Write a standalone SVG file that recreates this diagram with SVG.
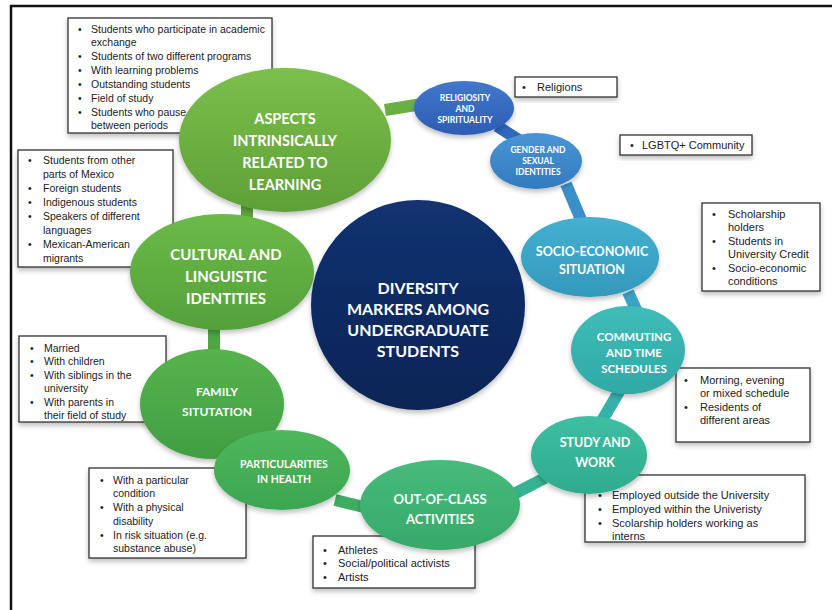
<svg xmlns="http://www.w3.org/2000/svg" width="832" height="610" viewBox="0 0 832 610">
<defs>
<style>
.frame{stroke:#111;stroke-width:2.5;fill:none}
.box{fill:#fff;stroke:#333;stroke-width:1.3}
.bt{font-family:"Liberation Sans",Arial,sans-serif;font-size:10.5px;fill:#222}
.bt11{font-size:11px}
.nt{font-family:Lato,"Liberation Sans",sans-serif;font-weight:bold;fill:#fff;text-anchor:middle}
.bar{stroke-linecap:butt;fill:none}
.sh{filter:url(#shadow)}
</style>
<filter id="shadow" x="-20%" y="-20%" width="140%" height="150%">
<feDropShadow dx="0" dy="3" stdDeviation="2.5" flood-color="#000" flood-opacity="0.25"/>
</filter>
<linearGradient id="gAsp" x1="0" y1="0" x2="0" y2="1"><stop offset="0" stop-color="#7dbf4c"/><stop offset="1" stop-color="#5f9f38"/></linearGradient>
<linearGradient id="gCul" x1="0" y1="0" x2="0" y2="1"><stop offset="0" stop-color="#6cba48"/><stop offset="1" stop-color="#54a13a"/></linearGradient>
<linearGradient id="gFam" x1="0" y1="0" x2="0" y2="1"><stop offset="0" stop-color="#57b34d"/><stop offset="1" stop-color="#3f9f42"/></linearGradient>
<linearGradient id="gPar" x1="0" y1="0" x2="0" y2="1"><stop offset="0" stop-color="#4fb75c"/><stop offset="1" stop-color="#3ca552"/></linearGradient>
<linearGradient id="gOut" x1="0" y1="0" x2="0" y2="1"><stop offset="0" stop-color="#47bb7c"/><stop offset="1" stop-color="#36a96a"/></linearGradient>
<linearGradient id="gStu" x1="0" y1="0" x2="0" y2="1"><stop offset="0" stop-color="#3fbea2"/><stop offset="1" stop-color="#2fab8e"/></linearGradient>
<linearGradient id="gCom" x1="0" y1="0" x2="0" y2="1"><stop offset="0" stop-color="#40bdb8"/><stop offset="1" stop-color="#2fa9a6"/></linearGradient>
<linearGradient id="gSoc" x1="0" y1="0" x2="0" y2="1"><stop offset="0" stop-color="#45b0d0"/><stop offset="1" stop-color="#3399bd"/></linearGradient>
<linearGradient id="gGen" x1="0" y1="0" x2="0" y2="1"><stop offset="0" stop-color="#4a95d4"/><stop offset="1" stop-color="#337ac0"/></linearGradient>
<linearGradient id="gRel" x1="0" y1="0" x2="0" y2="1"><stop offset="0" stop-color="#4277cc"/><stop offset="1" stop-color="#2c5db3"/></linearGradient>
<linearGradient id="gCen" x1="0" y1="0" x2="0" y2="1"><stop offset="0" stop-color="#123270"/><stop offset="1" stop-color="#0b2456"/></linearGradient>
</defs>
<rect width="832" height="610" fill="#fff"/>
<path class="frame" d="M11,610 V6 H832"/>

<g id="connectors">
<path class="bar" d="M385,110 L422,104" stroke="#6aaf44" stroke-width="12"/>
<path class="bar" d="M497,126 L522,142" stroke="#3068bf" stroke-width="12"/>
<path class="bar" d="M566,184 L582,222" stroke="#3b8fc8" stroke-width="12"/>
<path class="bar" d="M628,292 L638,314" stroke="#3ba3c4" stroke-width="12"/>
<path class="bar" d="M620,390 L600,424" stroke="#35b1aa" stroke-width="12"/>
<path class="bar" d="M545,478 L510,496" stroke="#35b392" stroke-width="12"/>
<path class="bar" d="M335,500 L368,508" stroke="#3cad62" stroke-width="12"/>
<path class="bar" d="M240,452 L258,470" stroke="#45a94f" stroke-width="12"/>
<path class="bar" d="M214,326 L214,354" stroke="#4ea544" stroke-width="12"/>
<path class="bar" d="M247,205 L247,222" stroke="#5fa23a" stroke-width="12"/>
</g>

<g id="box-aspects">
<rect class="box sh" x="68" y="18" width="204" height="115"/>
<text class="bt"><tspan x="78" y="33">•</tspan><tspan x="91" y="33">Students who participate in academic</tspan><tspan x="91" y="46">exchange</tspan><tspan x="78" y="60">•</tspan><tspan x="91" y="60">Students of two different programs</tspan><tspan x="78" y="74">•</tspan><tspan x="91" y="74">With learning problems</tspan><tspan x="78" y="88">•</tspan><tspan x="91" y="88">Outstanding students</tspan><tspan x="78" y="102">•</tspan><tspan x="91" y="102">Field of study</tspan><tspan x="78" y="116">•</tspan><tspan x="91" y="116">Students who pause</tspan><tspan x="91" y="129">between periods</tspan></text>
</g>

<g id="node-aspects">
<ellipse class="sh" cx="285" cy="140" rx="106" ry="72" fill="url(#gAsp)"/>
<text class="nt" font-size="14.5"><tspan x="285" y="124">ASPECTS</tspan><tspan x="285" y="146">INTRINSICALLY</tspan><tspan x="285" y="168">RELATED TO</tspan><tspan x="285" y="190">LEARNING</tspan></text>
</g>

<g id="box-cultural">
<rect class="box sh" x="18" y="150" width="155" height="117"/>
<text class="bt"><tspan x="28" y="164">•</tspan><tspan x="43" y="164">Students from other</tspan><tspan x="43" y="178">parts of Mexico</tspan><tspan x="28" y="192">•</tspan><tspan x="43" y="192">Foreign students</tspan><tspan x="28" y="206">•</tspan><tspan x="43" y="206">Indigenous students</tspan><tspan x="28" y="220">•</tspan><tspan x="43" y="220">Speakers of different</tspan><tspan x="43" y="234">languages</tspan><tspan x="28" y="248">•</tspan><tspan x="43" y="248">Mexican-American</tspan><tspan x="43" y="262">migrants</tspan></text>
</g>

<g id="node-cultural">
<ellipse class="sh" cx="222" cy="272" rx="92" ry="58" fill="url(#gCul)"/>
<text class="nt" font-size="15"><tspan x="226" y="260">CULTURAL AND</tspan><tspan x="226" y="282">LINGUISTIC</tspan><tspan x="226" y="304">IDENTITIES</tspan></text>
</g>

<g id="box-family">
<rect class="box sh" x="19" y="336" width="147" height="86"/>
<text class="bt"><tspan x="30" y="352">•</tspan><tspan x="44" y="352">Married</tspan><tspan x="30" y="365">•</tspan><tspan x="44" y="365">With children</tspan><tspan x="30" y="379">•</tspan><tspan x="44" y="379">With siblings in the</tspan><tspan x="44" y="392">university</tspan><tspan x="30" y="406">•</tspan><tspan x="44" y="406">With parents in</tspan><tspan x="44" y="419">their field of study</tspan></text>
</g>

<g id="node-family">
<ellipse class="sh" cx="212" cy="404" rx="72" ry="55" fill="url(#gFam)"/>
<text class="nt" font-size="12"><tspan x="217" y="396">FAMILY</tspan><tspan x="217" y="416">SITUTATION</tspan></text>
</g>

<g id="box-health">
<rect class="box sh" x="89" y="468" width="157" height="90"/>
<text class="bt"><tspan x="100" y="484">•</tspan><tspan x="113" y="484">With a particular</tspan><tspan x="113" y="497">condition</tspan><tspan x="100" y="511">•</tspan><tspan x="113" y="511">With a physical</tspan><tspan x="113" y="525">disability</tspan><tspan x="100" y="539">•</tspan><tspan x="113" y="539">In risk situation (e.g.</tspan><tspan x="113" y="552">substance abuse)</tspan></text>
</g>

<g id="node-health">
<ellipse class="sh" cx="282" cy="470" rx="68" ry="40" fill="url(#gPar)"/>
<text class="nt" font-size="10.5"><tspan x="284" y="468">PARTICULARITIES</tspan><tspan x="284" y="483">IN HEALTH</tspan></text>
</g>

<g id="box-outclass">
<rect class="box sh" x="313" y="536" width="162" height="52"/>
<text class="bt bt11"><tspan x="323" y="554">•</tspan><tspan x="338" y="554">Athletes</tspan><tspan x="323" y="567">•</tspan><tspan x="338" y="567">Social/political activists</tspan><tspan x="323" y="581">•</tspan><tspan x="338" y="581">Artists</tspan></text>
</g>

<g id="node-outclass">
<ellipse class="sh" cx="440" cy="505" rx="80" ry="45" fill="url(#gOut)"/>
<text class="nt" font-size="13"><tspan x="440" y="504">OUT-OF-CLASS</tspan><tspan x="440" y="524">ACTIVITIES</tspan></text>
</g>

<g id="box-study">
<rect class="box sh" x="585" y="475" width="220" height="67"/>
<text class="bt bt11"><tspan x="598" y="499">•</tspan><tspan x="612" y="499">Employed outside the University</tspan><tspan x="598" y="513">•</tspan><tspan x="612" y="513">Employed within the Univeristy</tspan><tspan x="598" y="527">•</tspan><tspan x="612" y="527">Scolarship holders working as</tspan><tspan x="612" y="540">interns</tspan></text>
</g>

<g id="node-study">
<ellipse class="sh" cx="589" cy="455" rx="58" ry="39" fill="url(#gStu)"/>
<text class="nt" font-size="12.5"><tspan x="595" y="447">STUDY AND</tspan><tspan x="595" y="467">WORK</tspan></text>
</g>

<g id="box-commuting">
<rect class="box sh" x="676" y="368" width="134" height="74"/>
<text class="bt bt11"><tspan x="684" y="384">•</tspan><tspan x="700" y="384">Morning, evening</tspan><tspan x="700" y="397">or mixed schedule</tspan><tspan x="684" y="411">•</tspan><tspan x="700" y="411">Residents of</tspan><tspan x="700" y="424">different areas</tspan></text>
</g>

<g id="node-commuting">
<ellipse class="sh" cx="628" cy="350" rx="57" ry="44" fill="url(#gCom)"/>
<text class="nt" font-size="11.5"><tspan x="634" y="341">COMMUTING</tspan><tspan x="634" y="357">AND TIME</tspan><tspan x="634" y="373">SCHEDULES</tspan></text>
</g>

<g id="box-socio">
<rect class="box sh" x="702" y="203" width="118" height="88"/>
<text class="bt bt11"><tspan x="712" y="218">•</tspan><tspan x="728" y="218">Scholarship</tspan><tspan x="728" y="231">holders</tspan><tspan x="712" y="245">•</tspan><tspan x="728" y="245">Students in</tspan><tspan x="728" y="258">University Credit</tspan><tspan x="712" y="272">•</tspan><tspan x="728" y="272">Socio-economic</tspan><tspan x="728" y="285">conditions</tspan></text>
</g>

<g id="node-socio">
<ellipse class="sh" cx="590" cy="257" rx="69" ry="40" fill="url(#gSoc)"/>
<text class="nt" font-size="12.5"><tspan x="592" y="256">SOCIO-ECONOMIC</tspan><tspan x="592" y="274">SITUATION</tspan></text>
</g>

<g id="box-gender">
<rect class="box sh" x="620" y="135" width="132" height="20"/>
<text class="bt bt11"><tspan x="630" y="149">•</tspan><tspan x="642" y="149">LGBTQ+ Community</tspan></text>
</g>

<g id="node-gender">
<ellipse class="sh" cx="536" cy="161" rx="46" ry="28" fill="url(#gGen)"/>
<text class="nt" font-size="8.5"><tspan x="538" y="153">GENDER AND</tspan><tspan x="538" y="164">SEXUAL</tspan><tspan x="538" y="175">IDENTITIES</tspan></text>
</g>

<g id="box-religiosity">
<rect class="box sh" x="515" y="77" width="102" height="20"/>
<text class="bt bt11"><tspan x="522" y="91">•</tspan><tspan x="537" y="91">Religions</tspan></text>
</g>

<g id="node-religiosity">
<ellipse class="sh" cx="464" cy="108" rx="50" ry="27" fill="url(#gRel)"/>
<text class="nt" font-size="8.5"><tspan x="465" y="101">RELIGIOSITY</tspan><tspan x="465" y="112">AND</tspan><tspan x="465" y="123">SPIRITUALITY</tspan></text>
</g>

<g id="node-center">
<ellipse class="sh" cx="418" cy="305" rx="107" ry="105" fill="url(#gCen)"/>
<text class="nt" font-size="16"><tspan x="418" y="294">DIVERSITY</tspan><tspan x="418" y="315">MARKERS AMONG</tspan><tspan x="418" y="336">UNDERGRADUATE</tspan><tspan x="418" y="357">STUDENTS</tspan></text>
</g>
</svg>
